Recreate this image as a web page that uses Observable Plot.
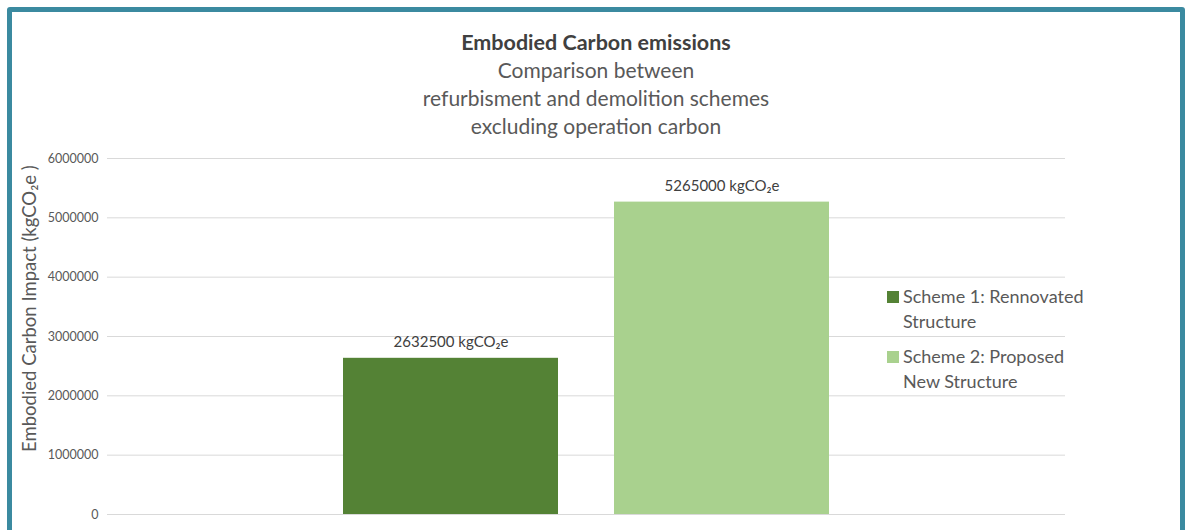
<!DOCTYPE html>
<html><head><meta charset="utf-8">
<script src="https://cdn.jsdelivr.net/npm/d3@7"></script>
<script src="https://cdn.jsdelivr.net/npm/@observablehq/plot@0.6"></script>
<style>
html,body{margin:0;padding:0;background:#fff;}
#wrap{position:relative;width:1189px;height:530px;overflow:hidden;font-family:Lato,"Open Sans",sans-serif;}
#frame{position:absolute;left:7px;top:7px;width:1168px;height:540px;border:5px solid #3b8aa0;border-radius:3px;}
#chart{position:absolute;left:0;top:0;}
#title{position:absolute;left:0;width:1192px;top:28px;text-align:center;color:#595959;font-size:21px;line-height:28px;}
#title b{color:#404040;font-size:21.5px;}
#legend{position:absolute;left:885px;top:284px;color:#595959;font-size:18px;line-height:25px;}
.li{position:relative;padding-left:18px;margin-bottom:10px;}
.sw{position:absolute;left:2px;top:7px;width:12px;height:12px;}
</style></head>
<body>
<div id="wrap">
  <div id="chart"></div>
  <div id="frame"></div>
  <div id="title"></div>
  <div id="legend"></div>
</div>
<script>
const schemes = ["Scheme 1: Rennovated Structure", "Scheme 2: Proposed New Structure"];
const legendLines = [["Scheme 1: Rennovated", "Structure"], ["Scheme 2: Proposed", "New Structure"]];
const values = [2632500, 5265000];
const colors = ["#548235", "#a9d18e"];
const yTicks = [0, 1000000, 2000000, 3000000, 4000000, 5000000, 6000000];
const titleText = "Embodied Carbon emissions";
const subtitleLines = ["Comparison between", "refurbisment and demolition schemes", "excluding operation carbon"];
const yLabel = "Embodied Carbon Impact (kgCO₂e )";
const unit = "kgCO₂e";

const data = schemes.map((s, i) => ({scheme: s, value: values[i]}));

document.getElementById("title").innerHTML =
  `<b>${titleText}</b><br>` + subtitleLines.join("<br>");

document.getElementById("legend").innerHTML = schemes.map((s, i) =>
  `<div class="li"><span class="sw" style="background:${colors[i]}"></span>${legendLines[i].join("<br>")}</div>`
).join("");

const chart = Plot.plot({
  width: 1189,
  height: 530,
  marginTop: 158,
  marginBottom: 16,
  marginLeft: 107,
  marginRight: 124,
  style: {fontFamily: "Lato, 'Open Sans', sans-serif", background: "transparent"},
  x: {domain: schemes, axis: null, paddingInner: 0.207, paddingOuter: 0.871},
  y: {domain: [0, 6000000]},
  color: {domain: schemes, range: colors},
  marks: [
    Plot.ruleY(yTicks, {stroke: "#d9d9d9", strokeWidth: 1}),
    Plot.barY(data, {x: "scheme", y: "value", fill: "scheme"}),
    Plot.text(data, {x: "scheme", y: "value", text: d => `${d.value} ${unit}`, dy: -16, fontSize: 15, fill: "#404040"}),
    Plot.axisY(yTicks, {
      tickSize: 0, tickPadding: 9, tickFormat: d => String(d), fontSize: 12.5,
      color: "#595959", label: null
    }),
    Plot.text([yLabel], {
      frameAnchor: "left", textAnchor: "middle", y: () => 3470000, dx: -77, rotate: -90,
      fontSize: 18.5, fill: "#595959", text: d => d
    })
  ]
});
document.getElementById("chart").appendChild(chart);
</script>
</body></html>
